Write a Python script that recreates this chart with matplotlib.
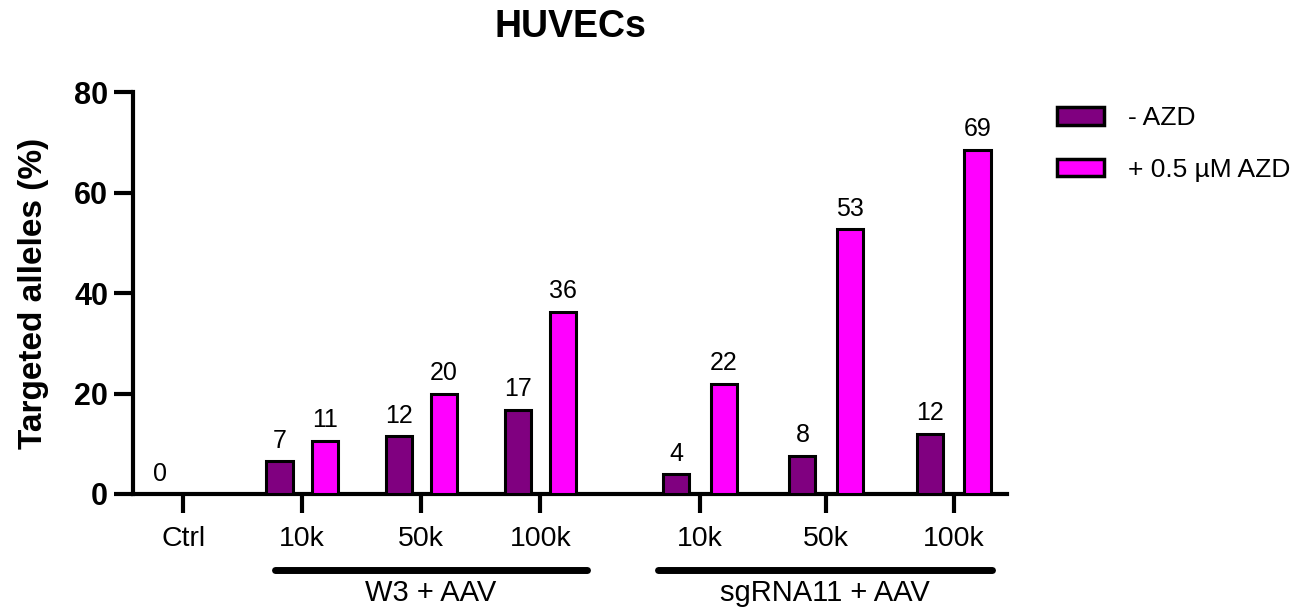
import numpy as np
import matplotlib
matplotlib.use("Agg")
import matplotlib.pyplot as plt
import matplotlib.transforms as mtransforms
from matplotlib.patches import Patch

plt.rcParams["font.family"] = ["Liberation Sans", "DejaVu Sans"]

# -- Data ------------------------------------------------------------
categories = ["Ctrl", "10k", "50k", "100k", "10k", "50k", "100k"]
no_azd = [0, 6.6, 11.5, 16.8, 3.9, 7.6, 12.0]
plus_azd = [np.nan, 10.6, 20.0, 36.3, 22.0, 52.8, 68.6]
no_azd_labels = ["0", "7", "12", "17", "4", "8", "12"]
plus_azd_labels = ["", "11", "20", "36", "22", "53", "69"]
groups = [("W3 + AAV", 1, 3), ("sgRNA11 + AAV", 4, 6)]

DARK = "#800080"
PINK = "#ff00ff"

# x positions: second block sits a little wider apart
xpos = np.array([0, 1, 2, 3, 4.34, 5.40, 6.47])
offsets = np.array([0.19, 0.19, 0.19, 0.19, 0.20, 0.20, 0.20])
width = 0.22

fig = plt.figure(figsize=(12.98, 6.11), dpi=100)
ax = fig.add_axes([0.1025, 0.1915, 0.6735, 0.6575])

ax.bar(xpos - offsets, no_azd, width, color=DARK, edgecolor="black", linewidth=2.2, zorder=3)
ax.bar(xpos + offsets, plus_azd, width, color=PINK, edgecolor="black", linewidth=2.2, zorder=3)

for x, v, lab in zip(xpos - offsets, no_azd, no_azd_labels):
    ax.annotate(lab, xy=(x, v), xytext=(0, 6), textcoords="offset points",
                ha="center", va="bottom", fontsize=18)
for x, v, lab in zip(xpos + offsets, plus_azd, plus_azd_labels):
    if lab:
        ax.annotate(lab, xy=(x, v), xytext=(0, 6), textcoords="offset points",
                    ha="center", va="bottom", fontsize=18)

ax.set_xlim(-0.42, 6.92)
ax.set_ylim(0, 80)
ax.set_yticks([0, 20, 40, 60, 80])
ax.set_xticks(xpos)
ax.set_xticklabels(categories, fontsize=20.5)
for t in ax.get_yticklabels():
    t.set_fontsize(22)
    t.set_fontweight("bold")

for side in ["top", "right"]:
    ax.spines[side].set_visible(False)
for side in ["left", "bottom"]:
    ax.spines[side].set_linewidth(3)
ax.tick_params(axis="both", width=3, length=14, direction="out")
ax.tick_params(axis="x", pad=9)
ax.tick_params(axis="y", pad=4)

ax.set_ylabel("Targeted alleles (%)", fontsize=24, fontweight="bold", labelpad=18)
ax.set_title("HUVECs", fontsize=27, fontweight="bold", pad=40)

# group brackets under the axis
trans = mtransforms.blended_transform_factory(ax.transData, ax.transAxes)
bracket_ends = [(-0.23, 0.39), (-0.35, 0.32)]
for (name, i0, i1), (d0, d1) in zip(groups, bracket_ends):
    x0 = xpos[i0] + d0
    x1 = xpos[i1] + d1
    ax.plot([x0, x1], [-0.19, -0.19], transform=trans, color="black",
            linewidth=5, solid_capstyle="round", clip_on=False)
    ax.text((x0 + x1) / 2, -0.212, name, transform=trans, ha="center",
            va="top", fontsize=21)

handles = [Patch(facecolor=DARK, edgecolor="black", linewidth=2.5),
           Patch(facecolor=PINK, edgecolor="black", linewidth=2.5)]
fig.legend(handles, ["- AZD", "+ 0.5 \u00b5M AZD"], loc="upper left",
           bbox_to_anchor=(0.814, 0.826), frameon=False, fontsize=19,
           borderpad=0, borderaxespad=0,
           handlelength=1.8, handleheight=0.62, handletextpad=0.9, labelspacing=1.05)

fig.savefig("out.png", dpi=100)
